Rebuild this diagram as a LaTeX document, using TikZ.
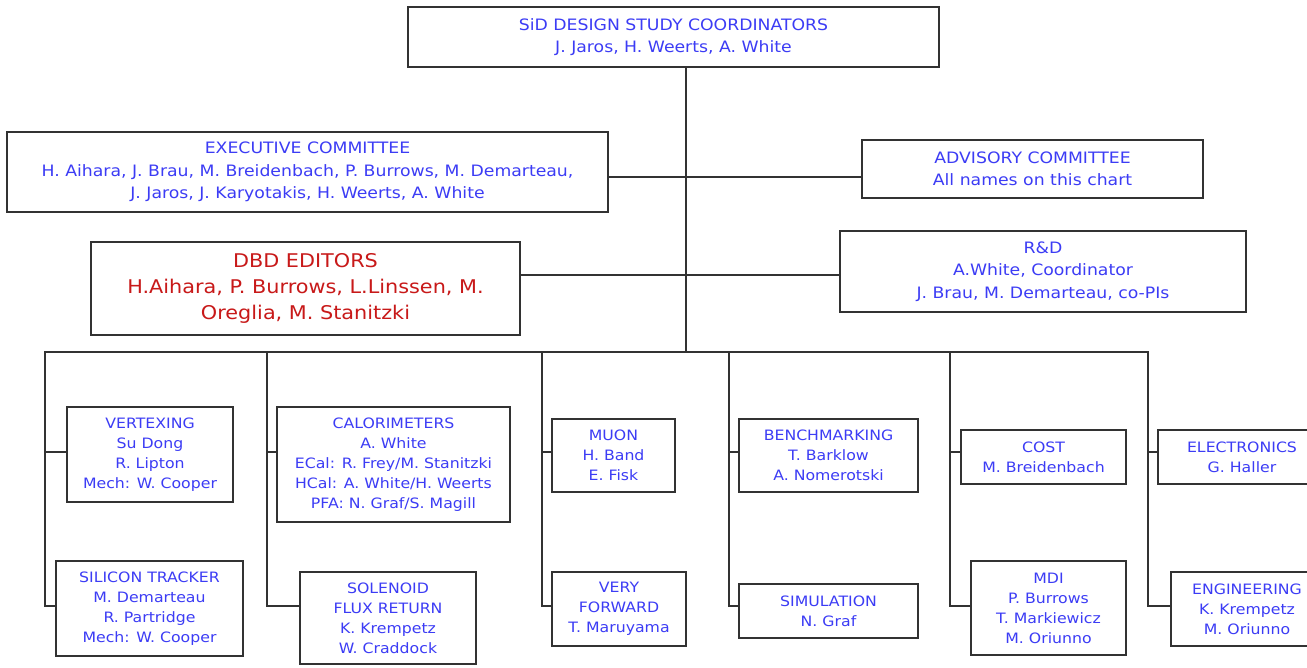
\documentclass[tikz,border=0pt]{standalone}
\usepackage{fontspec}
\setmainfont{DejaVu Sans}[FakeStretch=1.1]
\definecolor{txtblue}{RGB}{60,60,245}
\definecolor{txtred}{RGB}{200,25,25}
\definecolor{linegray}{RGB}{50,50,50}
\begin{document}
\begin{tikzpicture}[x=1pt,y=-1pt,
  box/.style={draw=linegray, line width=1.8pt, fill=white, inner sep=0pt, align=center, text=txtblue, font=\fontsize{14.3}{20}\selectfont},
  bigbox/.style={box, font=\fontsize{15.7}{22.5}\selectfont},
  conn/.style={draw=linegray, line width=1.8pt, line cap=rect}]
\useasboundingbox (0,0) rectangle (1307,667);
\clip (0,0) rectangle (1307,667);
% coordinates
\coordinate (j1) at (686,177);
\coordinate (j2) at (686,275);
\coordinate (bus) at (686,352);
\coordinate (c1) at (45,352);
\coordinate (c2) at (267,352);
\coordinate (c3) at (542,352);
\coordinate (c4) at (729,352);
\coordinate (c5) at (950,352);
\coordinate (c6) at (1148,352);
\coordinate (r1) at (0,452);
\coordinate (r2) at (0,606);
% top boxes
\node[bigbox, minimum width=531pt, minimum height=60pt] (top) at (673.5,37) {SiD DESIGN STUDY COORDINATORS\\J. Jaros, H. Weerts, A. White};
\node[bigbox, minimum width=601pt, minimum height=80pt] (exec) at (307.5,172) {EXECUTIVE COMMITTEE\\H. Aihara, J. Brau, M. Breidenbach, P. Burrows, M. Demarteau,\\J. Jaros, J. Karyotakis, H. Weerts, A. White};
\node[bigbox, minimum width=341pt, minimum height=58pt] (adv) at (1032.5,169) {ADVISORY COMMITTEE\\All names on this chart};
\node[box, minimum width=429pt, minimum height=93pt, text=txtred, font=\fontsize{18.9}{26}\selectfont] (dbd) at (305.5,288.5) {DBD EDITORS\\H.Aihara, P. Burrows, L.Linssen, M.\\Oreglia, M. Stanitzki};
\node[bigbox, minimum width=406pt, minimum height=81pt] (rd) at (1043,271.5) {R\&D\\A.White, Coordinator\\J. Brau, M. Demarteau, co-PIs};
% lower boxes
\node[box, minimum width=166pt, minimum height=95pt] (vert) at (150,454.5) {VERTEXING\\Su Dong\\R. Lipton\\Mech: W. Cooper};
\node[box, minimum width=187pt, minimum height=95pt] (sil) at (149.5,608.5) {SILICON TRACKER\\M. Demarteau\\R. Partridge\\Mech: W. Cooper};
\node[box, minimum width=233pt, minimum height=115pt] (cal) at (393.5,464.5) {CALORIMETERS\\A. White\\ECal: R. Frey/M. Stanitzki\\HCal: A. White/H. Weerts\\PFA: N. Graf/S. Magill};
\node[box, minimum width=176pt, minimum height=92pt] (sol) at (388,618) {SOLENOID\\FLUX RETURN\\K. Krempetz\\W. Craddock};
\node[box, minimum width=123pt, minimum height=73pt] (muon) at (613.5,455.5) {MUON\\H. Band\\E. Fisk};
\node[box, minimum width=134pt, minimum height=74pt] (vf) at (619,609) {VERY\\FORWARD\\T. Maruyama};
\node[box, minimum width=179pt, minimum height=73pt] (bench) at (828.5,455.5) {BENCHMARKING\\T. Barklow\\A. Nomerotski};
\node[box, minimum width=179pt, minimum height=54pt] (sim) at (828.5,611) {SIMULATION\\N. Graf};
\node[box, minimum width=165pt, minimum height=54pt] (cost) at (1043.5,457) {COST\\M. Breidenbach};
\node[box, minimum width=155pt, minimum height=94pt] (mdi) at (1048.5,608) {MDI\\P. Burrows\\T. Markiewicz\\M. Oriunno};
\node[box, minimum width=168pt, minimum height=54pt] (elec) at (1242,457) {ELECTRONICS\\G. Haller};
\node[box, minimum width=152pt, minimum height=74pt] (eng) at (1247,609) {ENGINEERING\\K. Krempetz\\M. Oriunno};
% connectors
\draw[conn] (top.south -| bus) -- (bus);
\draw[conn] (c1) -- (c6);
\draw[conn] (exec.east |- j1) -- (adv.west |- j1);
\draw[conn] (dbd.east |- j2) -- (rd.west |- j2);
\draw[conn] (c1) -- (c1 |- r2) -- (sil.west |- r2);
\draw[conn] (c1 |- r1) -- (vert.west |- r1);
\draw[conn] (c2) -- (c2 |- r2) -- (sol.west |- r2);
\draw[conn] (c2 |- r1) -- (cal.west |- r1);
\draw[conn] (c3) -- (c3 |- r2) -- (vf.west |- r2);
\draw[conn] (c3 |- r1) -- (muon.west |- r1);
\draw[conn] (c4) -- (c4 |- r2) -- (sim.west |- r2);
\draw[conn] (c4 |- r1) -- (bench.west |- r1);
\draw[conn] (c5) -- (c5 |- r2) -- (mdi.west |- r2);
\draw[conn] (c5 |- r1) -- (cost.west |- r1);
\draw[conn] (c6) -- (c6 |- r2) -- (eng.west |- r2);
\draw[conn] (c6 |- r1) -- (elec.west |- r1);
\end{tikzpicture}
\end{document}
